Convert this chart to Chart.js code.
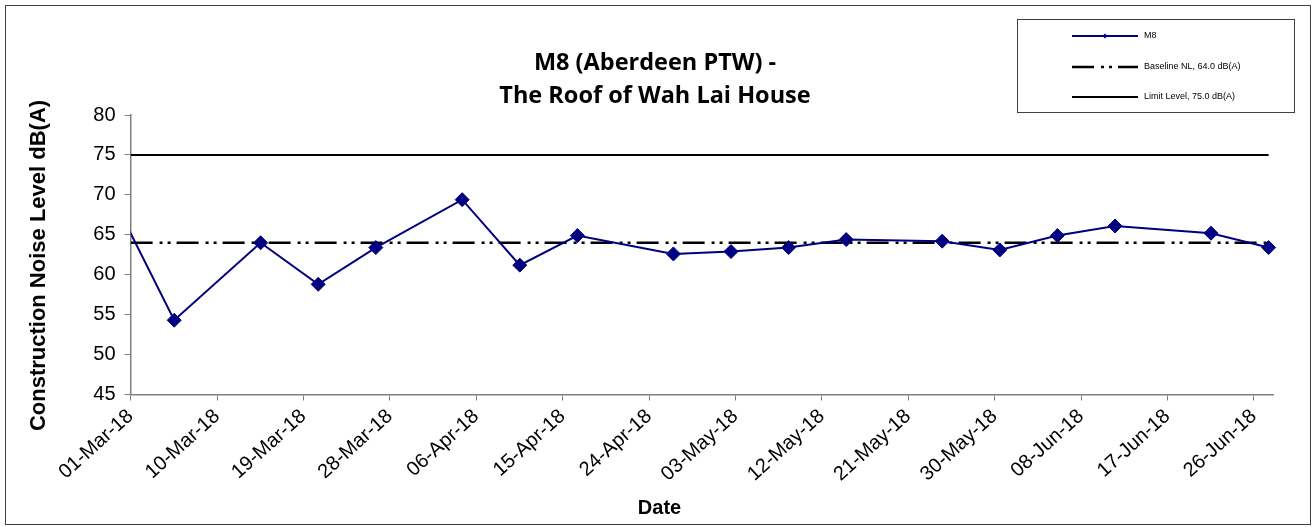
<!DOCTYPE html>
<html>
<head>
<meta charset="utf-8">
<title>M8 Construction Noise Level</title>
<script src="https://cdn.jsdelivr.net/npm/chart.js@4.4.1/dist/chart.umd.min.js"></script>
<style>
  html, body { margin: 0; padding: 0; background: #fff; }
  #wrap { position: relative; width: 1313px; height: 527px; }
  #frame { position: absolute; left: 5px; top: 5px; width: 1304px; height: 518px; border: 1px solid #404040; pointer-events: none; }
</style>
</head>
<body>
<div id="wrap">
  <canvas id="chartM8" width="1313" height="527"></canvas>
  <div id="frame"></div>
</div>
<script>
// dados
const monthNames = ['Jan', 'Feb', 'Mar', 'Apr', 'May', 'Jun', 'Jul', 'Aug', 'Sep', 'Oct', 'Nov', 'Dec'];
const axisStart = '01-Mar-18';
const axisEnd = '28-Jun-18';
const tickLabels = ['01-Mar-18', '10-Mar-18', '19-Mar-18', '28-Mar-18', '06-Apr-18', '15-Apr-18', '24-Apr-18',
    '03-May-18', '12-May-18', '21-May-18', '30-May-18', '08-Jun-18', '17-Jun-18', '26-Jun-18'];
const sampleTimes = ['27-Feb-18 13:00', '05-Mar-18 13:00', '14-Mar-18 13:00', '20-Mar-18 13:00', '26-Mar-18 13:00',
    '04-Apr-18 13:00', '10-Apr-18 13:00', '16-Apr-18 13:00', '26-Apr-18 13:00', '02-May-18 13:00',
    '08-May-18 13:00', '14-May-18 13:00', '24-May-18 13:00', '30-May-18 13:00', '05-Jun-18 13:00',
    '11-Jun-18 13:00', '21-Jun-18 13:00', '27-Jun-18 13:00'];
const m8Levels = [68.7, 54.3, 64.0, 58.8, 63.4, 69.4, 61.2, 64.9, 62.6, 62.9, 63.4, 64.4, 64.2, 63.1, 64.9, 66.1, 65.2, 63.4];
const baselineNL = 64.0;
const limitLevel = 75.0;
const yMin = 45;
const yMax = 80;
const yStep = 5;

// 'DD-Mon-YY' ou 'DD-Mon-YY HH:MM' -> dias desde o inicio do eixo
function toMs(s) {
    const [d, m, y] = s.slice(0, 9).split('-');
    const t = s.length > 9 ? s.slice(10).split(':') : ['0', '0'];
    return Date.UTC(2000 + Number(y), monthNames.indexOf(m), Number(d), Number(t[0]), Number(t[1]));
}
function toDay(s) {
    return (toMs(s) - toMs(axisStart)) / 86400000;
}

const firstDay = toDay(axisStart);
const lastSampleDay = toDay(sampleTimes[sampleTimes.length - 1]);

const tickFont = { family: '"Liberation Sans", Arial, sans-serif', size: 20 };

// titulos dos eixos: centrados no grafico inteiro, como no Excel
const axisTitlesPlugin = {
    id: 'axisTitles',
    afterDraw(chart) {
        const ctx = chart.ctx;
        ctx.save();
        ctx.fillStyle = '#000';
        ctx.textAlign = 'center';
        ctx.textBaseline = 'middle';
        ctx.font = 'bold 22px "Liberation Sans", Arial, sans-serif';
        ctx.translate(39, chart.height / 2 + 2);
        ctx.rotate(-Math.PI / 2);
        ctx.fillText('Construction Noise Level dB(A)', 0, 0);
        ctx.restore();

        ctx.save();
        ctx.fillStyle = '#000';
        ctx.textAlign = 'center';
        ctx.textBaseline = 'middle';
        ctx.font = 'bold 20px "Liberation Sans", Arial, sans-serif';
        ctx.fillText('Date', chart.width / 2 + 3, 508);
        ctx.restore();
    }
};

// legenda em caixa no canto superior direito
const boxLegendPlugin = {
    id: 'boxLegend',
    afterDraw(chart) {
        const ctx = chart.ctx;
        const box = { left: 1017, top: 19, right: 1294, bottom: 112 };
        ctx.save();
        ctx.fillStyle = '#fff';
        ctx.fillRect(box.left, box.top, box.right - box.left, box.bottom - box.top);
        ctx.strokeStyle = '#404040';
        ctx.lineWidth = 1;
        ctx.strokeRect(box.left + 0.5, box.top + 0.5, box.right - box.left, box.bottom - box.top);

        const rows = [36, 67, 97];
        ctx.font = '9px "Liberation Sans", Arial, sans-serif';
        ctx.textBaseline = 'middle';
        chart.data.datasets.forEach((ds, i) => {
            const y = rows[i];
            ctx.strokeStyle = ds.borderColor;
            ctx.lineWidth = ds.borderWidth;
            ctx.setLineDash(ds.borderDash || []);
            ctx.beginPath();
            ctx.moveTo(1072, y);
            ctx.lineTo(1138, y);
            ctx.stroke();
            ctx.setLineDash([]);
            if (ds.pointRadius > 0) {
                ctx.fillStyle = ds.backgroundColor;
                ctx.beginPath();
                ctx.moveTo(1105 - 2.5, y);
                ctx.lineTo(1105, y - 2.5);
                ctx.lineTo(1105 + 2.5, y);
                ctx.lineTo(1105, y + 2.5);
                ctx.closePath();
                ctx.fill();
            }
            ctx.fillStyle = '#000';
            ctx.fillText(ds.label, 1144, y);
        });
        ctx.restore();
    }
};

function carregarGrafico() {
    const ctx = document.getElementById('chartM8').getContext('2d');
    const chart = new Chart(ctx, {
        type: 'line',
        data: {
            datasets: [{
                label: 'M8',
                data: sampleTimes.map((t, i) => ({ x: toDay(t), y: m8Levels[i] })),
                borderColor: '#000080',
                backgroundColor: '#000080',
                borderWidth: 2,
                pointStyle: 'rectRot',
                pointRadius: 7,
                pointBorderWidth: 1,
                tension: 0,
                clip: { left: 0, right: 8, top: 8, bottom: 8 }
            }, {
                label: 'Baseline NL, ' + baselineNL.toFixed(1) + ' dB(A)',
                data: [{ x: firstDay, y: baselineNL }, { x: lastSampleDay, y: baselineNL }],
                borderColor: '#000',
                borderWidth: 2.5,
                borderDash: [22, 7, 3, 5, 3, 6],
                pointRadius: 0
            }, {
                label: 'Limit Level, ' + limitLevel.toFixed(1) + ' dB(A)',
                data: [{ x: firstDay, y: limitLevel }, { x: lastSampleDay, y: limitLevel }],
                borderColor: '#000',
                borderWidth: 2,
                pointRadius: 0
            }]
        },
        options: {
            responsive: false,
            animation: false,
            // esquerda maior para o titulo ficar centrado no canvas
            layout: { padding: { left: 37, right: 40, top: 0, bottom: 0 } },
            plugins: {
                legend: { display: false },
                tooltip: { enabled: false },
                title: {
                    display: true,
                    text: ['M8 (Aberdeen PTW) -', 'The Roof of Wah Lai House'],
                    color: '#000',
                    font: { family: '"Open Sans", Lato, sans-serif', size: 23.5, weight: 'bold', lineHeight: 1.4 },
                    padding: { top: 46.5, bottom: 2.7 }
                }
            },
            scales: {
                x: {
                    type: 'linear',
                    min: firstDay,
                    max: toDay(axisEnd),
                    afterBuildTicks: scale => {
                        scale.ticks = tickLabels.map(l => ({ value: toDay(l) }));
                    },
                    afterFit: scale => { scale.height = 132.5; },
                    ticks: {
                        callback: (v, i) => tickLabels[i],
                        autoSkip: false,
                        minRotation: 42,
                        maxRotation: 42,
                        color: '#000',
                        font: tickFont,
                        padding: 4
                    },
                    grid: { drawOnChartArea: false, tickLength: 6, color: '#808080' },
                    border: { color: '#808080', width: 1.5 }
                },
                y: {
                    min: yMin,
                    max: yMax,
                    afterFit: scale => { scale.width = 93.6; },
                    ticks: { stepSize: yStep, color: '#000', font: tickFont, padding: 9 },
                    grid: { drawOnChartArea: false, tickLength: 6, color: '#808080' },
                    border: { color: '#808080', width: 1.5 }
                }
            }
        },
        plugins: [axisTitlesPlugin, boxLegendPlugin]
    });
    window.chartM8 = chart;
}

carregarGrafico();
</script>
</body>
</html>
